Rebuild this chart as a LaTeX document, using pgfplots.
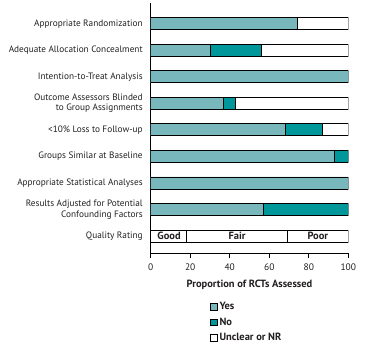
\documentclass[border=0pt]{standalone}
\usepackage{pgfplots}
\pgfplotsset{compat=1.18}
\usepackage{fontspec}
\setmainfont{PT Sans}
\definecolor{yescol}{HTML}{78B8BC}
\definecolor{nocol}{HTML}{00979B}
\definecolor{txt}{HTML}{231F20}
\begin{document}
\begin{tikzpicture}[font=\fontsize{9.3}{10}\selectfont, color=txt]
\useasboundingbox (0,0) rectangle (372bp,353bp);
\pgfplotsset{common/.style={scale only axis, width=197.6bp, height=250bp,
  at={(150.7bp,99.7bp)}, anchor=south west,
  xmin=0, xmax=100, ymin=0.35, ymax=9.77,
  xbar stacked, bar width=12bp}}
\begin{axis}[common, hide axis]
\addplot[fill=white, draw=black, line width=0.8pt] coordinates {(18,1)};
\addplot[fill=white, draw=black, line width=0.8pt] coordinates {(51,1)};
\addplot[fill=white, draw=black, line width=0.8pt] coordinates {(31,1)};
\end{axis}
\begin{axis}[common,
  axis x line*=bottom, axis y line*=left,
  axis line style={-, line width=0.8pt, black},
  xtick={0,20,...,100}, xtick align=outside, major tick length=5bp,
  x tick style={line width=0.8pt, black},
  /pgf/number format/assume math mode=true,
  xticklabel style={font=\fontsize{9.5}{9.5}\selectfont, yshift=-1.5bp},
  ytick={1,...,9},
  yticklabels={Quality Rating,
    {Results Adjusted for Potential\\Confounding Factors},
    Appropriate Statistical Analyses,
    Groups Similar at Baseline,
    <10\% Loss to Follow-up,
    {Outcome Assessors Blinded\\to Group Assignments},
    Intention-to-Treat Analysis,
    Adequate Allocation Concealment,
    Appropriate Randomization},
  ytick style={draw=none},
  yticklabel style={align=right, font=\fontsize{9.3}{10.5}\selectfont, xshift=-4.5bp},
  xlabel={\bfseries Proportion of RCTs Assessed},
  xlabel style={font=\fontsize{10.5}{11}\selectfont, yshift=-3.5bp},
  legend style={at={(0.285,-0.18)}, anchor=north west, draw=none,
    font=\bfseries\fontsize{10.5}{11}\selectfont, row sep=2.5bp},
  legend cell align=left,
  legend image code/.code={\draw[#1, draw=black, line width=0.6pt] (0bp,-3.4bp) rectangle (6.8bp,3.4bp);},
  ]
\addplot[fill=yescol, draw=black, line width=0.8pt] coordinates {(74,9) (30,8) (100,7) (37,6) (68,5) (93,4) (100,3) (57,2)};
\addplot[fill=nocol, draw=black, line width=0.8pt] coordinates {(0,9) (26,8) (0,7) (6,6) (19,5) (7,4) (0,3) (43,2)};
\addplot[fill=white, draw=black, line width=0.8pt] coordinates {(26,9) (44,8) (0,7) (57,6) (13,5) (0,4) (0,3) (0,2)};
\legend{Yes, No, Unclear or NR}
\node[font=\bfseries\fontsize{10.5}{10.5}\selectfont] at (axis cs:9.3,1) {Good};
\node[font=\bfseries\fontsize{10.5}{10.5}\selectfont] at (axis cs:43.7,1) {Fair};
\node[font=\bfseries\fontsize{10.5}{10.5}\selectfont] at (axis cs:84.6,1) {Poor};
\end{axis}
\end{tikzpicture}
\end{document}
